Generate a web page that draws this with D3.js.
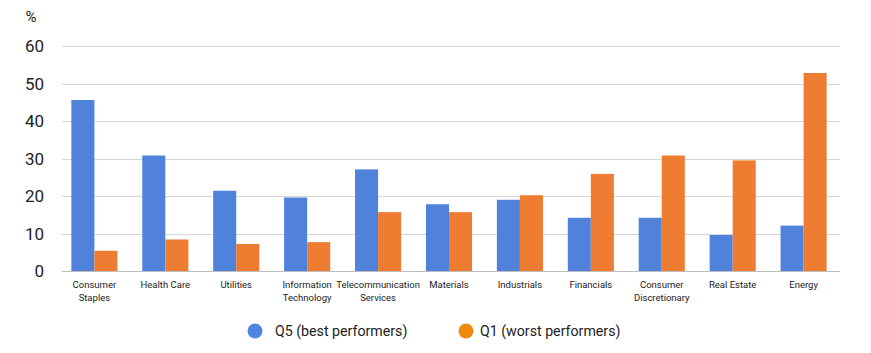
<!DOCTYPE html>
<html>
<head>
<meta charset="utf-8">
<script src="https://cdn.jsdelivr.net/npm/d3@7"></script>
<style>
  body { margin: 0; background: #fff; }
  svg { display: block; font-family: Roboto, "Liberation Sans", sans-serif; }
</style>
</head>
<body>
<svg id="chart" width="871" height="353"></svg>
<script>
var categories = ["Consumer Staples", "Health Care", "Utilities", "Information Technology",
  "Telecommunication Services", "Materials", "Industrials", "Financials",
  "Consumer Discretionary", "Real Estate", "Energy"];
var labelLines = [["Consumer", "Staples"], ["Health Care"], ["Utilities"], ["Information", "Technology"],
  ["Telecommunication", "Services"], ["Materials"], ["Industrials"], ["Financials"],
  ["Consumer", "Discretionary"], ["Real Estate"], ["Energy"]];
var q5 = [45.6, 30.8, 21.4, 19.6, 27.1, 17.8, 19.0, 14.2, 14.2, 9.6, 12.1];
var q1 = [5.4, 8.4, 7.2, 7.7, 15.7, 15.7, 20.2, 25.9, 30.8, 29.5, 52.8];
var seriesNames = ["Q5 (best performers)", "Q1 (worst performers)"];
var yTicks = [0, 10, 20, 30, 40, 50, 60];

var barColors = ["#5082dc", "#ee7d31"];
var legendColors = ["#4f87e0", "#f08a0c"];

var svg = d3.select("#chart");

var x = d3.scaleBand()
  .domain(categories)
  .range([60, 838])
  .paddingInner(0.35)
  .paddingOuter(0.16);

var xSub = d3.scaleBand()
  .domain([0, 1])
  .range([0, x.bandwidth()]);

var y = d3.scaleLinear()
  .domain([0, 60])
  .range([271, 46]);

// gridlines
svg.append("g")
  .selectAll("line")
  .data(yTicks)
  .enter().append("line")
  .attr("x1", 62).attr("x2", 840)
  .attr("y1", function(d){ return Math.round(y(d)) + 0.5; })
  .attr("y2", function(d){ return Math.round(y(d)) + 0.5; })
  .attr("stroke", function(d){ return d === 0 ? "#bdbdbd" : "#d6d6d6"; })
  .attr("stroke-width", 1);

// y tick labels
svg.append("g")
  .selectAll("text")
  .data(yTicks)
  .enter().append("text")
  .attr("x", 44)
  .attr("y", function(d){ return y(d) + 6; })
  .attr("text-anchor", "end")
  .attr("font-size", 17)
  .attr("fill", "#222")
  .text(function(d){ return d; });

svg.append("text")
  .attr("x", 31).attr("y", 22)
  .attr("text-anchor", "middle")
  .attr("font-size", 15)
  .attr("fill", "#222")
  .text("%");

// bars
var rows = categories.map(function(c, i){ return {cat: c, vals: [q5[i], q1[i]]}; });
var groups = svg.append("g")
  .selectAll("g")
  .data(rows)
  .enter().append("g")
  .attr("transform", function(d){ return "translate(" + x(d.cat) + ",0)"; });

groups.selectAll("rect")
  .data(function(d){ return d.vals.map(function(v, k){ return {k: k, v: v}; }); })
  .enter().append("rect")
  .attr("x", function(d){ return xSub(d.k); })
  .attr("width", xSub.bandwidth())
  .attr("y", function(d){ return y(d.v); })
  .attr("height", function(d){ return y(0) - y(d.v); })
  .attr("fill", function(d){ return barColors[d.k]; });

// category labels
var labels = svg.append("g")
  .selectAll("text")
  .data(categories)
  .enter().append("text")
  .attr("x", function(d){ return x(d) + x.bandwidth() / 2; })
  .attr("y", 288)
  .attr("text-anchor", "middle")
  .attr("font-size", 9.5)
  .attr("fill", "#222");

labels.each(function(d, i){
  var t = d3.select(this);
  labelLines[i].forEach(function(line, j){
    t.append("tspan")
      .attr("x", x(d) + x.bandwidth() / 2)
      .attr("dy", j === 0 ? 0 : 12.5)
      .text(line);
  });
});

// legend
var legendX = [255, 466];
var legend = svg.append("g")
  .selectAll("g")
  .data(seriesNames)
  .enter().append("g")
  .attr("transform", function(d, i){ return "translate(" + legendX[i] + ",331)"; });

legend.append("circle")
  .attr("r", 7.5)
  .attr("fill", function(d, i){ return legendColors[i]; });

legend.append("text")
  .attr("x", function(d, i){ return i === 0 ? 20 : 14; })
  .attr("y", 5)
  .attr("font-size", 14.2)
  .attr("fill", "#222")
  .text(function(d){ return d; });
</script>
</body>
</html>
